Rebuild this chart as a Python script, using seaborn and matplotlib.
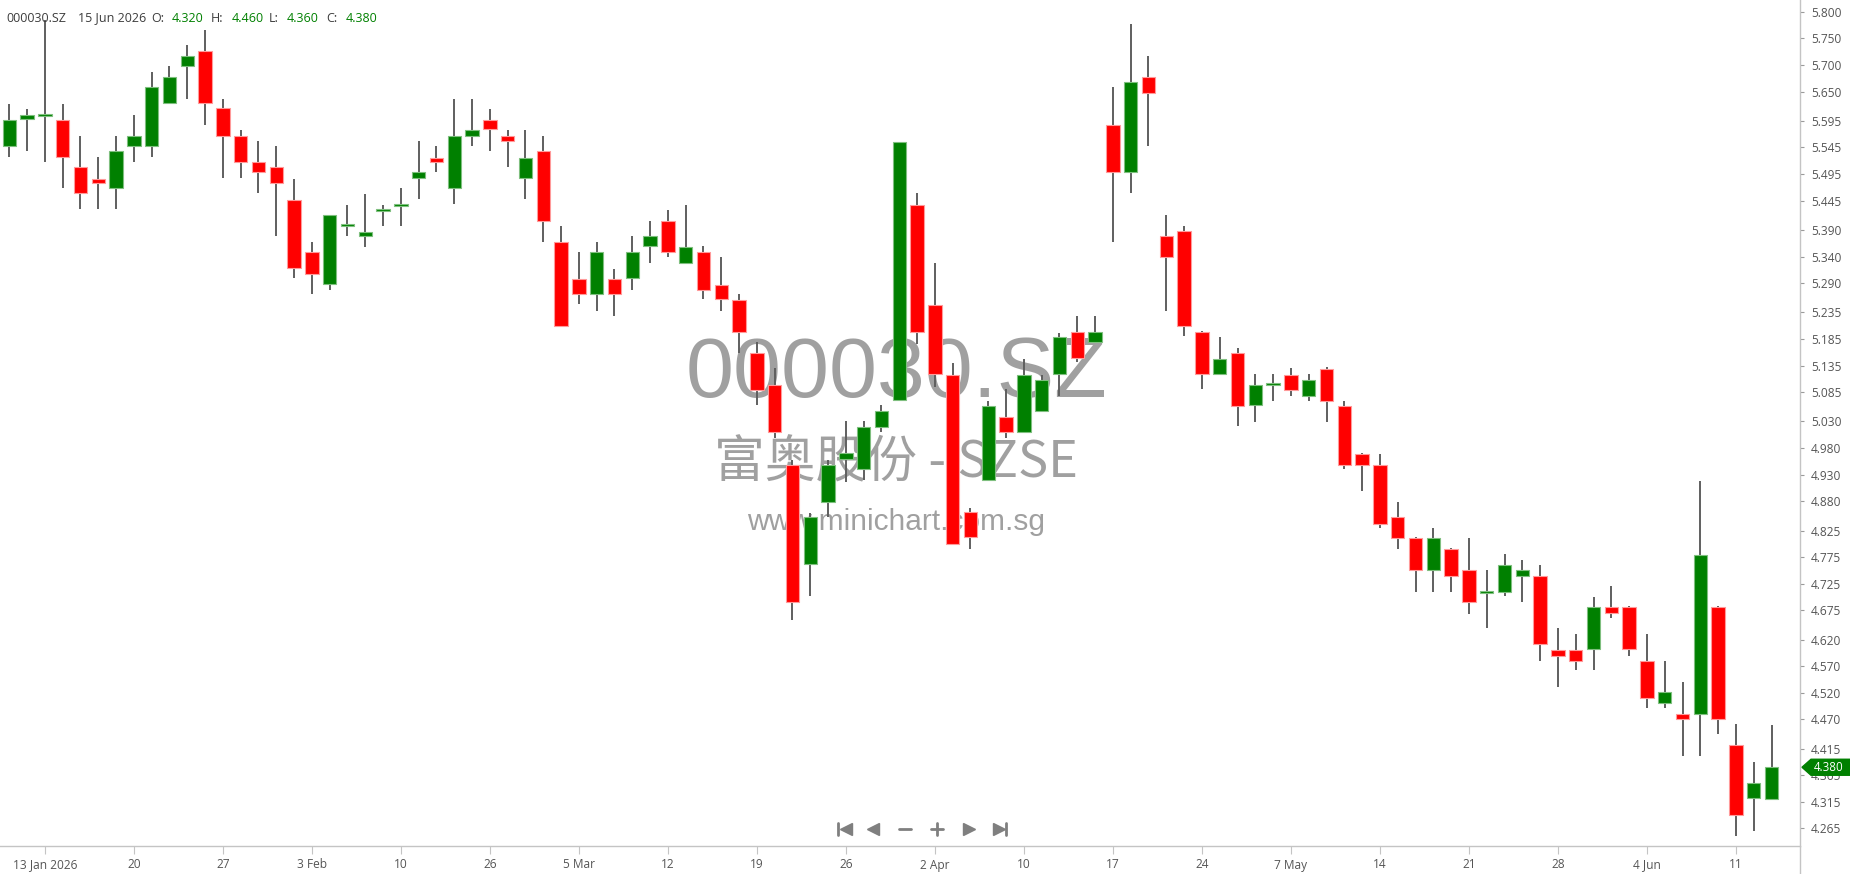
import matplotlib
matplotlib.use("Agg")
import matplotlib.pyplot as plt
import seaborn as sns
import numpy as np
import pandas as pd
from matplotlib.patches import Polygon
from matplotlib.lines import Line2D
from matplotlib.transforms import IdentityTransform

# ---------------- data ----------------
opens = [5.548, 5.598, 5.605, 5.597, 5.508, 5.486, 5.468, 5.548, 5.548, 5.628,
         5.698, 5.726, 5.619, 5.567, 5.517, 5.508, 5.446, 5.348, 5.288, 5.397,
         5.379, 5.426, 5.435, 5.487, 5.526, 5.468, 5.567, 5.597, 5.566, 5.487,
         5.538, 5.367, 5.298, 5.269, 5.298, 5.299, 5.359, 5.406, 5.327, 5.348,
         5.287, 5.258, 5.158, 5.099, 4.948, 4.762, 4.879, 4.959, 4.940, 5.020,
         5.070, 5.437, 5.249, 5.117, 4.859, 4.920, 5.038, 5.011, 5.050, 5.119,
         5.198, 5.179, 5.587, 5.499, 5.678, 5.379, 5.388, 5.198, 5.119, 5.158,
         5.060, 5.098, 5.118, 5.078, 5.129, 5.059, 4.969, 4.949, 4.850, 4.810,
         4.750, 4.790, 4.750, 4.708, 4.710, 4.740, 4.740, 4.601, 4.601, 4.602,
         4.681, 4.681, 4.580, 4.500, 4.481, 4.481, 4.681, 4.421, 4.323, 4.320]
highs = [5.627, 5.618, 5.785, 5.627, 5.567, 5.527, 5.567, 5.606, 5.686, 5.698,
         5.738, 5.766, 5.637, 5.578, 5.557, 5.548, 5.486, 5.367, 5.418, 5.437,
         5.458, 5.437, 5.468, 5.557, 5.547, 5.637, 5.637, 5.618, 5.578, 5.578,
         5.566, 5.397, 5.348, 5.367, 5.317, 5.379, 5.407, 5.427, 5.437, 5.359,
         5.339, 5.269, 5.180, 5.130, 4.958, 4.857, 4.958, 5.030, 5.030, 5.060,
         5.556, 5.459, 5.327, 5.139, 4.868, 5.068, 5.091, 5.148, 5.117, 5.196,
         5.228, 5.228, 5.659, 5.777, 5.717, 5.419, 5.397, 5.200, 5.188, 5.169,
         5.119, 5.119, 5.130, 5.119, 5.132, 5.068, 4.971, 4.969, 4.878, 4.812,
         4.829, 4.792, 4.810, 4.750, 4.780, 4.770, 4.761, 4.641, 4.630, 4.700,
         4.721, 4.683, 4.630, 4.580, 4.541, 4.918, 4.683, 4.461, 4.389, 4.460]
lows = [5.527, 5.539, 5.518, 5.468, 5.429, 5.429, 5.429, 5.518, 5.527, 5.628,
        5.637, 5.588, 5.487, 5.487, 5.459, 5.379, 5.299, 5.269, 5.278, 5.379,
        5.358, 5.398, 5.398, 5.448, 5.498, 5.438, 5.548, 5.538, 5.508, 5.448,
        5.367, 5.210, 5.250, 5.238, 5.229, 5.278, 5.327, 5.339, 5.327, 5.260,
        5.238, 5.158, 5.060, 4.998, 4.657, 4.701, 4.851, 4.917, 4.920, 5.010,
        5.070, 5.175, 5.095, 4.800, 4.790, 4.920, 4.998, 5.011, 5.050, 5.078,
        5.141, 5.179, 5.367, 5.459, 5.548, 5.238, 5.190, 5.091, 5.119, 5.021,
        5.029, 5.069, 5.078, 5.069, 5.029, 4.940, 4.900, 4.829, 4.790, 4.710,
        4.710, 4.710, 4.669, 4.641, 4.701, 4.691, 4.580, 4.531, 4.562, 4.562,
        4.660, 4.590, 4.491, 4.491, 4.402, 4.402, 4.442, 4.251, 4.261, 4.360]
closes = [5.597, 5.606, 5.607, 5.528, 5.460, 5.478, 5.538, 5.567, 5.658, 5.677,
          5.716, 5.628, 5.567, 5.518, 5.499, 5.478, 5.319, 5.308, 5.418, 5.398,
          5.387, 5.427, 5.436, 5.498, 5.518, 5.566, 5.578, 5.579, 5.557, 5.526,
          5.407, 5.210, 5.269, 5.348, 5.269, 5.348, 5.378, 5.349, 5.357, 5.278,
          5.260, 5.198, 5.090, 5.011, 4.691, 4.850, 4.948, 4.970, 5.019, 5.050,
          5.556, 5.199, 5.119, 4.800, 4.813, 5.059, 5.011, 5.117, 5.108, 5.188,
          5.149, 5.198, 5.499, 5.668, 5.647, 5.339, 5.210, 5.119, 5.148, 5.059,
          5.098, 5.099, 5.090, 5.108, 5.069, 4.949, 4.949, 4.838, 4.810, 4.750,
          4.810, 4.740, 4.691, 4.709, 4.760, 4.750, 4.612, 4.590, 4.580, 4.681,
          4.670, 4.602, 4.510, 4.521, 4.470, 4.779, 4.470, 4.291, 4.350, 4.380]

x_tick_pos = [2, 7, 12, 17, 22, 27, 32, 37, 42, 47, 52, 57, 62, 67, 72, 77, 82, 87, 92, 97]
x_tick_labels = ["13 Jan 2026", "20", "27", "3 Feb", "10", "26", "5 Mar", "12", "19", "26",
                 "2 Apr", "10", "17", "24", "7 May", "14", "21", "28", "4 Jun", "11"]
y_tick_labels = ["5.800", "5.750", "5.700", "5.650", "5.595", "5.545", "5.495", "5.445",
                 "5.390", "5.340", "5.290", "5.235", "5.185", "5.135", "5.085", "5.030",
                 "4.980", "4.930", "4.880", "4.825", "4.775", "4.725", "4.675", "4.620",
                 "4.570", "4.520", "4.470", "4.415", "4.365", "4.315", "4.265"]

symbol = "000030.SZ"
last_date = "15 Jun 2026"
wm_title = "000030.SZ"
wm_sub = "富奥股份 - SZSE"
wm_url = "www.minichart.com.sg"

# ---------------- style ----------------
sns.set_theme(style="ticks")
plt.rcParams["font.family"] = ["Open Sans", "DejaVu Sans"]

RED = "#ff0000"
GREEN = "#008000"
W, H = 1850, 874
fig = plt.figure(figsize=(W / 100, H / 100), dpi=100)
fig.patch.set_facecolor("white")
AX_BOTTOM, AX_RIGHT = 846, 1800
ax = fig.add_axes([0, 1 - AX_BOTTOM / H, AX_RIGHT / W, AX_BOTTOM / H])
ax.set_facecolor("white")

df = pd.DataFrame({"o": opens, "h": highs, "l": lows, "c": closes})
df["idx"] = np.arange(len(df))
df["up"] = df["c"] >= df["o"]
df["bottom"] = df[["o", "c"]].min(axis=1)
df["height"] = (df["c"] - df["o"]).abs().clip(lower=0.0035)

# wicks
ax.vlines(df["idx"], df["l"], df["h"], color="#5f5f5f", lw=1.4, zorder=2)
# bodies
face = np.where(df["up"], GREEN, RED)
edge = np.where(df["up"], "#7fbf7f", "#ff9a9a")
ax.bar(df["idx"], df["height"], bottom=df["bottom"], width=0.75,
       color=face, edgecolor=edge, linewidth=0.8, zorder=3)

ax.set_xlim(-0.52, 100.60)
ax.set_ylim(4.232, 5.8222)

for s in ["top", "left"]:
    ax.spines[s].set_visible(False)
for s in ["right", "bottom"]:
    ax.spines[s].set_color("#c4c4c4")
    ax.spines[s].set_linewidth(1.0)

ax.yaxis.tick_right()
ax.set_yticks([float(v) for v in y_tick_labels])
ax.set_yticklabels(y_tick_labels)
ax.set_xticks(x_tick_pos)
ax.set_xticklabels(x_tick_labels)
ax.tick_params(axis="y", which="major", left=False, right=True, labelright=True,
               labelleft=False, direction="out", length=3, width=0.8,
               color="#9a9a9a", labelsize=8.6, labelcolor="#555555", pad=5)
ax.tick_params(axis="x", which="major", bottom=True, direction="out", length=6,
               width=0.8, color="#c4c4c4", labelsize=8.6, labelcolor="#555555", pad=3)
ax.grid(False)

# extend right axis line to figure bottom
fig.add_artist(Line2D([AX_RIGHT / W] * 2, [0, 1 - AX_BOTTOM / H], color="#c4c4c4", lw=1.0))

# watermark
wm_color = "#a0a0a0"
wm_fonts = ["Liberation Sans", "Noto Sans CJK SC", "DejaVu Sans"]
ax.text(0.498, 0.557, wm_title, transform=ax.transAxes, ha="center", va="center",
        fontsize=62, color=wm_color, family=wm_fonts, zorder=1)
ax.text(0.498, 0.452, wm_sub, transform=ax.transAxes, ha="center", va="center",
        fontsize=36.5, color=wm_color, family=["Noto Sans CJK SC", "Liberation Sans"], zorder=1)
ax.text(0.498, 0.383, wm_url, transform=ax.transAxes, ha="center", va="center",
        fontsize=21.5, color=wm_color, family=wm_fonts, zorder=1)

# header
dark = "#3c3c3c"
hdr_y = 1 - 18 / H
items = [(symbol, 6.5, dark), (last_date, 78, dark),
         ("O:", 151, dark), (f"{opens[-1]:.3f}", 172, GREEN),
         ("H:", 211, dark), (f"{highs[-1]:.3f}", 232, GREEN),
         ("L:", 269, dark), (f"{lows[-1]:.3f}", 287, GREEN),
         ("C:", 326, dark), (f"{closes[-1]:.3f}", 346, GREEN)]
for txt, px, col in items:
    fig.text(px / W, hdr_y, txt, ha="left", va="center", fontsize=9, color=col)

# last price marker
fig.canvas.draw()
yd = ax.transData.transform((0, closes[-1]))[1]
xr = ax.transAxes.transform((1, 0))[0]
hh = 8
poly = Polygon([(xr + 2, yd), (xr + 11, yd + hh), (W, yd + hh), (W, yd - hh), (xr + 11, yd - hh)],
               closed=True, transform=IdentityTransform(), facecolor=GREEN, edgecolor=GREEN, zorder=10)
fig.add_artist(poly)
fig.text((xr + 29) / W, yd / H, f"{closes[-1]:.3f}", ha="center", va="center",
         fontsize=8.3, color="white", zorder=11)

# navigation icons
nav_c = "#7f7f7f"
ny = 829
def fx(p):
    return p / W
def fy(p):
    return 1 - p / H
fig.add_artist(Line2D([fx(838)] * 2, [fy(823), fy(835)], color=nav_c, lw=2))
for px, m in [(846, "<"), (873, "<"), (969, ">"), (999, ">")]:
    fig.add_artist(Line2D([fx(px)], [fy(ny)], marker=m, markersize=8, color=nav_c, lw=0))
fig.add_artist(Line2D([fx(1006)] * 2, [fy(823), fy(835)], color=nav_c, lw=2))
fig.add_artist(Line2D([fx(899), fx(911)], [fy(ny)] * 2, color=nav_c, lw=2))
fig.add_artist(Line2D([fx(931), fx(943)], [fy(ny)] * 2, color=nav_c, lw=2))
fig.add_artist(Line2D([fx(937)] * 2, [fy(823), fy(835)], color=nav_c, lw=2))

fig.savefig("out.png", dpi=100, facecolor="white")
